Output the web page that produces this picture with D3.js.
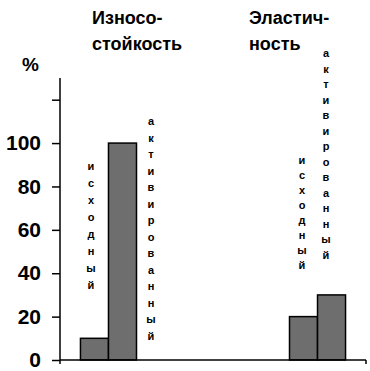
<!DOCTYPE html>
<html lang="ru">
<head>
<meta charset="UTF-8">
<title>Износостойкость и эластичность</title>
<style>
  body { margin: 0; background: #fff; }
  svg text { font-family: "Liberation Sans", Arial, sans-serif; font-weight: bold; fill: #000; }
</style>
</head>
<body>
<svg id="chart" width="370" height="371"></svg>

<script src="https://d3js.org/d3.v7.min.js"></script>
<script>
const categories = ["Износостойкость", "Эластичность"];
const titleLines = [["Износо-", "стойкость"], ["Эластич-", "ность"]];
const seriesNames = ["исходный", "активированный"];
const initial = [10, 20];
const activated = [100, 30];
const yTicks = [0, 20, 40, 60, 80, 100, 120];
const yTickLabels = ["0", "20", "40", "60", "80", "100", ""];

const svg = d3.select("#chart");
const plotLeft = 60, plotRight = 366, plotBottom = 360, plotTop = 78;

const y = d3.scaleLinear().domain([0, 130]).range([plotBottom, plotTop]);
const x = d3.scaleBand().domain(categories).range([plotLeft, plotRight]);
// each category holds 4 slots (excel style), the group sits in slots 2*ci, 2*ci+1
const slot = d3.scaleBand().domain([0, 1, 2, 3]).range([0, x.bandwidth()])
    .paddingInner(0).paddingOuter(0.73);

const bars = [];
categories.forEach((c, ci) => {
    [initial, activated].forEach((vals, si) => {
        bars.push({ cat: c, slot: ci * 2 + si, value: vals[ci], name: seriesNames[si] });
    });
});

svg.selectAll("rect.bar")
    .data(bars)
    .enter()
    .append("rect")
    .attr("class", "bar")
    .attr("x", d => x(d.cat) + slot(d.slot))
    .attr("y", d => y(d.value))
    .attr("width", slot.bandwidth())
    .attr("height", d => y(0) - y(d.value))
    .attr("fill", "#6e6e6e")
    .attr("stroke", "#000")
    .attr("stroke-width", 1.5);

// y axis
const yAxis = d3.axisLeft(y)
    .tickValues(yTicks)
    .tickFormat((d, i) => yTickLabels[i])
    .tickSize(8)
    .tickSizeOuter(0)
    .tickPadding(11);

const gy = svg.append("g")
    .attr("transform", `translate(${plotLeft},0)`)
    .call(yAxis);
gy.select(".domain").remove();
gy.selectAll(".tick line").attr("stroke", "#000").attr("stroke-width", 1.5);
gy.selectAll(".tick text")
    .style("font-size", "21px")
    .style("font-family", "'Liberation Sans', Arial, sans-serif")
    .style("font-weight", "bold");

svg.append("line")
    .attr("x1", plotLeft).attr("x2", plotLeft)
    .attr("y1", plotTop).attr("y2", plotBottom + 4)
    .attr("stroke", "#000").attr("stroke-width", 1.5);

// x axis
svg.append("line")
    .attr("x1", plotLeft).attr("x2", plotRight)
    .attr("y1", plotBottom).attr("y2", plotBottom)
    .attr("stroke", "#000").attr("stroke-width", 1.5);
svg.append("line")
    .attr("x1", plotRight).attr("x2", plotRight)
    .attr("y1", plotBottom).attr("y2", plotBottom + 4)
    .attr("stroke", "#000").attr("stroke-width", 1.5);

svg.append("text")
    .attr("x", 22).attr("y", 71)
    .style("font-size", "19px")
    .text("%");

// category titles
const titleX = [92, 249];
titleLines.forEach((lines, ci) => {
    lines.forEach((t, li) => {
        svg.append("text")
            .attr("x", titleX[ci])
            .attr("y", 24 + li * 26)
            .style("font-size", "18px")
            .text(t);
    });
});

// vertical letter labels
const labels = [
    { text: seriesNames[0], x: 91, y: 170, step: 17 },
    { text: seriesNames[1], x: 151, y: 125, step: 16.5 },
    { text: seriesNames[0], x: 302, y: 164, step: 15 },
    { text: seriesNames[1], x: 326, y: 57, step: 15.5 }
];
labels.forEach(l => {
    const t = svg.append("text")
        .attr("text-anchor", "middle")
        .style("font-size", "11px");
    t.selectAll("tspan")
        .data(l.text.split(""))
        .enter()
        .append("tspan")
        .attr("x", l.x)
        .attr("y", (d, i) => l.y + i * l.step)
        .text(d => d);
});
</script>
</body>
</html>
